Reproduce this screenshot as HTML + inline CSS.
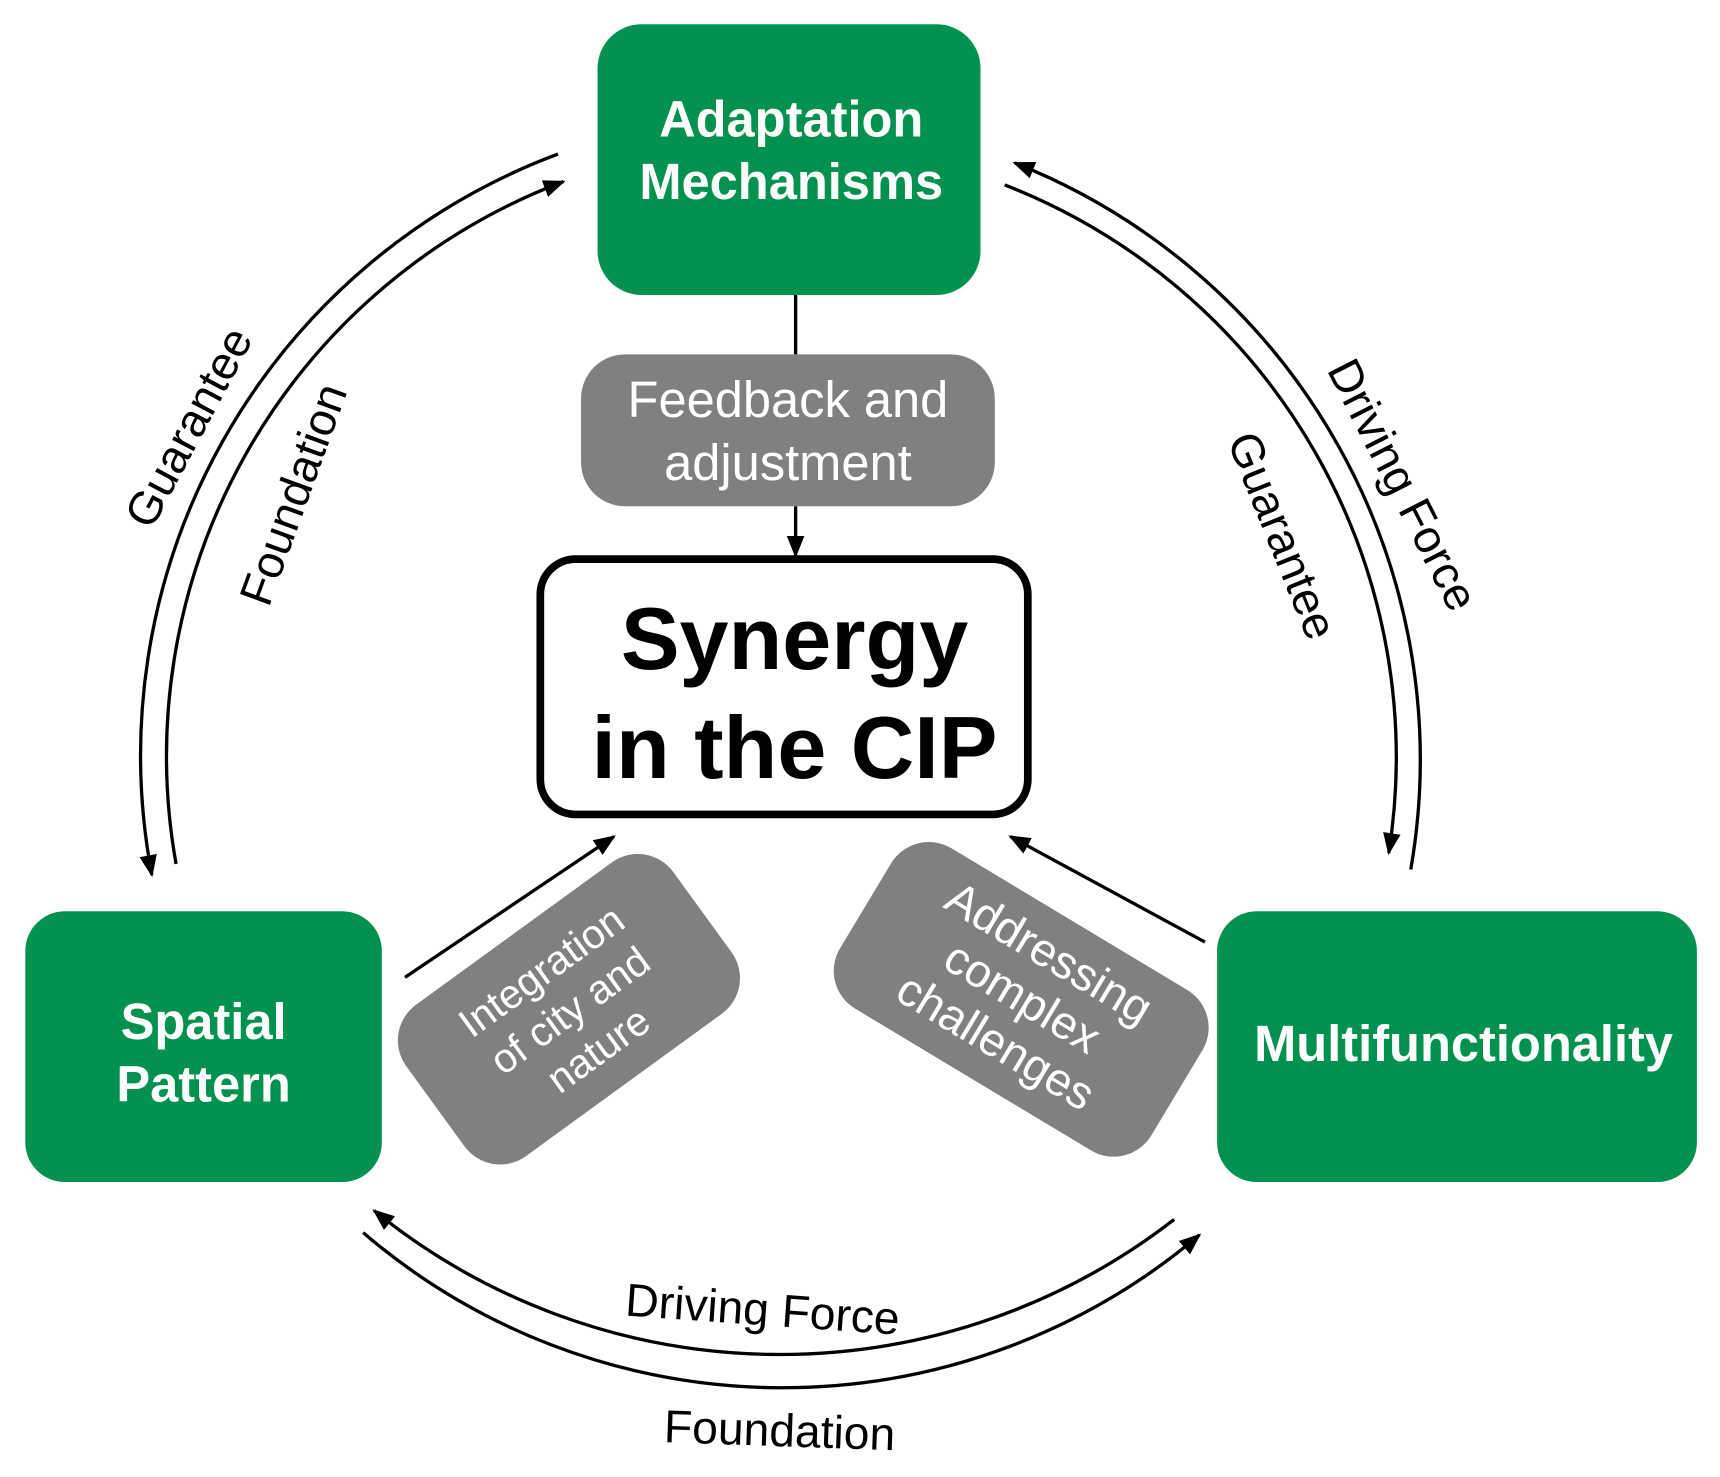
<!DOCTYPE html>
<html><head><meta charset="utf-8"><style>html,body{margin:0;padding:0;background:#fff}svg{display:block}</style></head>
<body>
<svg width="1720" height="1477" viewBox="0 0 1563 1342" preserveAspectRatio="none" xmlns="http://www.w3.org/2000/svg" font-family="Liberation Sans, sans-serif">
<defs>
<marker id="b" viewBox="0 0 10 10" refX="9" refY="5" markerWidth="20" markerHeight="20" markerUnits="userSpaceOnUse" orient="auto-start-reverse"><path d="M0,1L10,5L0,9z" fill="#000"/></marker>
</defs>
<g fill="none" stroke="#000" stroke-width="3">
<path d="M507,140 A583,583 0 0 0 138,795" marker-end="url(#b)"/>
<path d="M160,785 A558,558 0 0 1 512,165" marker-end="url(#b)"/>
<path d="M1282,790 A583,583 0 0 0 922,148" marker-end="url(#b)"/>
<path d="M913,168 A558,558 0 0 1 1262,775" marker-end="url(#b)"/>
<path d="M1067,1108 A585,585 0 0 1 340,1100" marker-end="url(#b)"/>
<path d="M330,1120 A586,586 0 0 0 1090,1122" marker-end="url(#b)"/>
<line x1="723" y1="268" x2="723" y2="322"/>
<line x1="723" y1="460" x2="723" y2="505" marker-end="url(#b)"/>
<line x1="368" y1="888" x2="558" y2="760" marker-end="url(#b)"/>
<line x1="1095" y1="856" x2="918" y2="760" marker-end="url(#b)"/>
</g>
<rect x="543" y="22" width="348" height="246" rx="40" fill="#039150"/>
<rect x="23" y="828" width="324" height="246" rx="36" fill="#039150"/>
<rect x="1106" y="828" width="436" height="246" rx="36" fill="#039150"/>
<rect x="528" y="322" width="376" height="138" rx="40" fill="#808080"/>
<rect x="491" y="508" width="443" height="232" rx="32" fill="#fff" stroke="#000" stroke-width="7"/>
<g transform="translate(517,917) rotate(-36)"><rect x="-150" y="-85" width="300" height="170" rx="40" fill="#808080"/>
<g fill="#fff" font-size="37" text-anchor="middle"><text x="0" y="-30">Integration</text><text x="0" y="14">of city and</text><text x="0" y="58">nature</text></g></g>
<g transform="translate(928,908) rotate(31)"><rect x="-165" y="-85" width="330" height="170" rx="40" fill="#808080"/>
<g fill="#fff" font-size="42" text-anchor="middle"><text x="0" y="-35">Addressing</text><text x="0" y="12">complex</text><text x="0" y="59">challenges</text></g></g>
<g fill="#fff" font-weight="bold" font-size="46" text-anchor="middle">
<text x="719" y="124">Adaptation</text><text x="719" y="181">Mechanisms</text>
<text x="185" y="944">Spatial</text><text x="185" y="1001">Pattern</text>
<text x="1330" y="964">Multifunctionality</text>
</g>
<g fill="#fff" font-size="46" text-anchor="middle"><text x="716" y="379">Feedback and</text><text x="716" y="436">adjustment</text></g>
<g font-weight="bold" font-size="80" text-anchor="middle"><text x="722" y="608">Synergy</text><text x="722" y="707">in the CIP</text></g>
<g font-size="42" text-anchor="middle">
<text transform="translate(184,395) rotate(-62)">Guarantee</text>
<text transform="translate(280,454) rotate(-70)">Foundation</text>
<text transform="translate(1262,447) rotate(63)">Driving Force</text>
<text transform="translate(1152,492) rotate(68)">Guarantee</text>
<text transform="translate(692,1204) rotate(4)">Driving Force</text>
<text transform="translate(708,1314) rotate(2)">Foundation</text>
</g>
</svg>
</body></html>
